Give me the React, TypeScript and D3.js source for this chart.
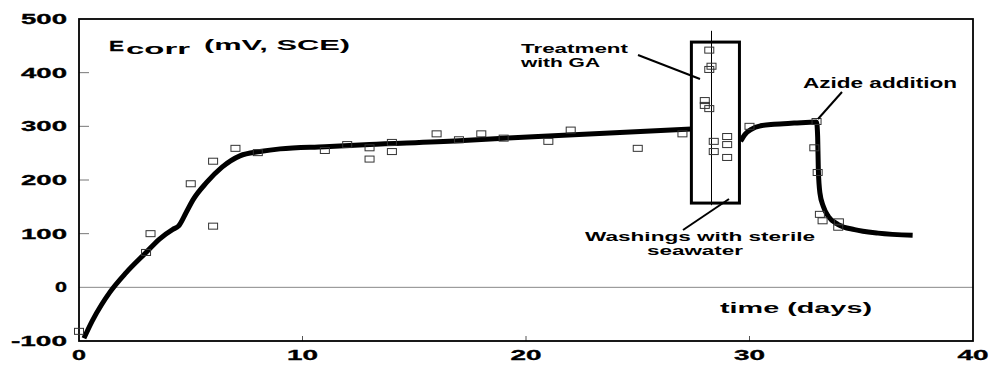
import React from 'react';
import * as d3 from 'd3';

// axis ticks
const dayTicks = [0, 10, 20, 30, 40];
const mvTicks = [-100, 0, 100, 200, 300, 400, 500];

// measured Ecorr points (days, mV)
const obsDays = [0, 3.0, 3.2, 5.0, 6.0, 6.0, 7.0, 8.0, 11, 12, 13, 13, 14, 14, 16, 17, 18, 19, 21, 22, 25, 27,
  28.2, 28.3, 28.2, 28.0, 28.0, 28.2, 28.4, 28.4, 29.0, 29.0, 29.0, 30.0,
  33.0, 32.9, 33.05, 33.15, 33.27, 33.97, 34.0];
const obsMv = [-82, 65, 100, 193, 235, 114, 259, 251, 255, 266, 260, 239, 270, 253, 286, 275, 286, 278, 272, 293, 259, 286,
  442, 412, 406, 348, 339, 333, 272, 253, 281, 266, 242, 300,
  309, 260, 214, 136, 124, 112, 122];

// fitted trend before treatment
const trendADays = [0.22, 0.6, 1.0, 1.4, 2.1, 3.0, 3.6, 4.2, 4.45, 4.8, 5.1, 5.7, 6.4, 7.2, 8.1, 9.0, 11, 13, 17, 19, 21, 27.4];
const trendAMv = [-95, -62, -33, -8, 27, 65, 90, 108, 114, 140, 163, 195, 224, 245, 253, 258, 262, 266, 273, 278, 282, 295];

// fitted trend after washings, then azide
const trendBDays = [29.6, 29.8, 30.1, 30.5, 31.1, 32.0, 33.0, 33.05, 33.08, 33.15, 33.3, 33.53, 33.97, 34.7, 35.75, 37.3];
const trendBMv = [272, 285, 295, 301, 304, 306, 308, 280, 219, 176, 151, 132, 117, 107.5, 101, 97];

// treatment window
const boxDays = [27.4, 29.55];
const boxMv = [157, 457];
const markDay = 28.3;
const markMv = [153, 478];

const W = 992;
const H = 366;
const font = '"Liberation Sans", Arial, sans-serif';

export default function App() {
  const x = d3.scaleLinear().domain([0, 40]).range([79, 973]);
  const y = d3.scaleLinear().domain([-100, 500]).range([341, 19]);

  const line = d3.line<[number, number]>()
    .x(d => x(d[0]))
    .y(d => y(d[1]))
    .curve(d3.curveMonotoneX);

  const trendA = trendADays.map((d, i) => [d, trendAMv[i]] as [number, number]);
  const trendB = trendBDays.map((d, i) => [d, trendBMv[i]] as [number, number]);

  const yLabelWidth = (v: number) => (v === 0 ? 12 : v < 0 ? 56 : 46);
  const xLabelWidth = (v: number) => (v === 0 ? 14 : 31);

  return (
    <svg width={W} height={H} style={{ position: 'absolute', left: 0, top: 0, background: '#fff' }}
      fontFamily={font} fontWeight="bold">
      {/* zero line */}
      <line x1={x(0)} x2={x(40)} y1={y(0)} y2={y(0)} stroke="#888" strokeWidth={1} />

      {/* y ticks */}
      {mvTicks.map(v => (
        <g key={'y' + v}>
          {v > -100 && v < 500 && v !== 0 && (
            <line x1={x(0)} x2={x(0) + 10} y1={y(v)} y2={y(v)} stroke="#777" strokeWidth={1} />
          )}
          <text x={67 - yLabelWidth(v)} y={y(v) + 5} fontSize={14} textLength={yLabelWidth(v)}
            lengthAdjust="spacingAndGlyphs" stroke="#000" strokeWidth={0.3}>{v}</text>
        </g>
      ))}

      {/* x ticks */}
      {dayTicks.map(v => (
        <g key={'x' + v}>
          {v > 0 && v < 40 && (
            <line x1={x(v)} x2={x(v)} y1={y(-100)} y2={y(-100) - 5} stroke="#555" strokeWidth={1} />
          )}
          <text x={x(v) - xLabelWidth(v) / 2} y={360} fontSize={14} textLength={xLabelWidth(v)}
            lengthAdjust="spacingAndGlyphs" stroke="#000" strokeWidth={0.3}>{v}</text>
        </g>
      ))}

      {/* frame */}
      <rect x={x(0)} y={y(500)} width={x(40) - x(0)} height={y(-100) - y(500)}
        fill="none" stroke="#000" strokeWidth={1.8} />

      {/* trend lines */}
      <path d={line(trendA) ?? ''} fill="none" stroke="#000" strokeWidth={5} strokeLinejoin="round" />
      <path d={line(trendB) ?? ''} fill="none" stroke="#000" strokeWidth={5} strokeLinejoin="round" />

      {/* treatment window */}
      <rect x={x(boxDays[0])} y={y(boxMv[1])} width={x(boxDays[1]) - x(boxDays[0])}
        height={y(boxMv[0]) - y(boxMv[1])} fill="none" stroke="#000" strokeWidth={3} />
      <line x1={x(markDay)} x2={x(markDay)} y1={y(markMv[1])} y2={y(markMv[0])} stroke="#000" strokeWidth={1} />

      {/* observations */}
      {obsDays.map((d, i) => (
        <rect key={'o' + i} x={x(d) - 4.5} y={y(obsMv[i]) - 3} width={9} height={6}
          fill="none" stroke="#333" strokeWidth={1} />
      ))}

      {/* title */}
      <text transform="translate(109,50.5) scale(1.45,1)" fontSize={15.5} stroke="#000" strokeWidth={0.3}>E</text>
      <text x={126} y={54} fontSize={15} textLength={64} lengthAdjust="spacingAndGlyphs">corr</text>
      <text x={204} y={50} fontSize={15} textLength={146} lengthAdjust="spacingAndGlyphs">(mV, SCE)</text>

      {/* annotations */}
      <text x={521} y={52.7} fontSize={13} textLength={107} lengthAdjust="spacingAndGlyphs">Treatment</text>
      <text x={521} y={66.7} fontSize={13} textLength={79} lengthAdjust="spacingAndGlyphs">with GA</text>
      <line x1={638} y1={55} x2={700} y2={79} stroke="#000" strokeWidth={2} />

      <text x={803} y={87.7} fontSize={14} textLength={154} lengthAdjust="spacingAndGlyphs">Azide addition</text>
      <line x1={842} y1={92} x2={818} y2={119} stroke="#000" strokeWidth={2} />

      <text x={585} y={241} fontSize={13} textLength={230} lengthAdjust="spacingAndGlyphs">Washings with sterile</text>
      <text x={647} y={255} fontSize={13} textLength={96} lengthAdjust="spacingAndGlyphs">seawater</text>
      <line x1={683} y1={230} x2={729} y2={199} stroke="#000" strokeWidth={2} />

      <text x={720} y={313} fontSize={15} textLength={152} lengthAdjust="spacingAndGlyphs">time (days)</text>
    </svg>
  );
}
